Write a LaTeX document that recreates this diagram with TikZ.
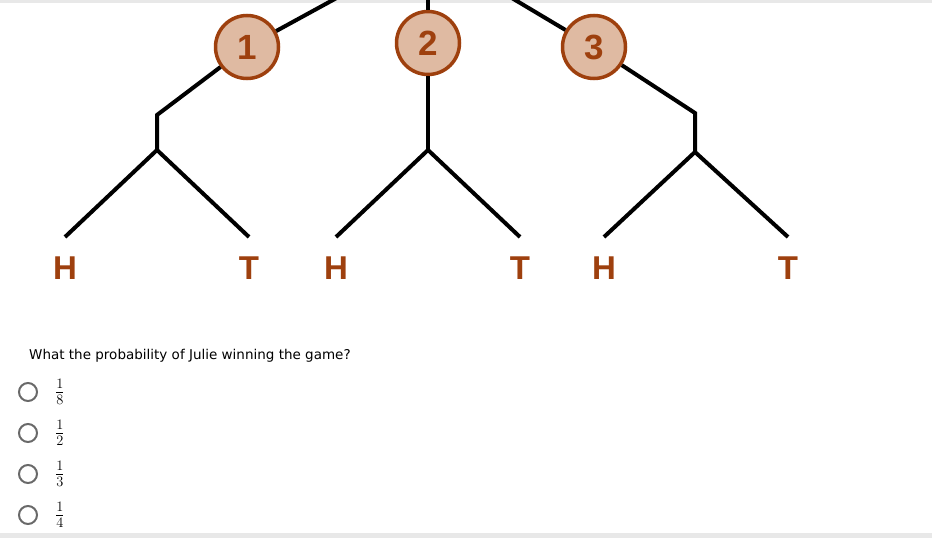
\documentclass[tikz,border=0pt]{standalone}
\usepackage{fontspec}
\setsansfont{Liberation Sans}
\newfontfamily\quizfont{DejaVu Sans}
\usetikzlibrary{positioning}
\definecolor{rust}{RGB}{158,64,14}
\definecolor{tan}{RGB}{223,186,162}
\definecolor{ring}{RGB}{105,105,105}
\definecolor{edge}{RGB}{232,232,232}

\begin{document}
\begin{tikzpicture}[x=1pt,y=-1pt]
\tikzstyle{every node}+=[inner sep=0pt]
\tikzstyle{branch}=[line width=4pt,line join=miter]
\tikzstyle{game}=[circle,draw=rust,fill=tan,line width=3.5pt,minimum size=63pt,text=rust,font=\sffamily\bfseries\fontsize{35}{35}\selectfont]
\tikzstyle{coin}=[text=rust,font=\sffamily\bfseries\fontsize{33}{33}\selectfont]
\tikzstyle{radio}=[circle,draw=ring,line width=2pt,minimum size=18pt]
\tikzstyle{choice}=[right=17pt of #1,font=\fontsize{20}{20}\selectfont]
\useasboundingbox (0,0) rectangle (932,538);
\clip (0,0) rectangle (932,538);
\fill [edge] (0,0) rectangle (932,3);
\fill [edge] (0,533) rectangle (932,538);
\coordinate (root) at (428,-52);
\node [game] (g1) at (247,47) {1};
\node [game] (g2) at (428,43) {2};
\node [game] (g3) at (594,47) {3};
\coordinate (k1) at (157,115);
\coordinate (s1) at (157,150);
\coordinate (s2) at (428,150);
\coordinate (k3) at (695,113);
\coordinate (s3) at (695,152);
\coordinate (l1) at (65,237);
\coordinate (l2) at (249,237);
\coordinate (l3) at (336,237);
\coordinate (l4) at (520,237);
\coordinate (l5) at (604,237);
\coordinate (l6) at (788,237);
\node [coin,below=20pt of l1] (h1) {H};
\node [coin,below=20pt of l2] (t1) {T};
\node [coin,below=20pt of l3] (h2) {H};
\node [coin,below=20pt of l4] (t2) {T};
\node [coin,below=20pt of l5] (h3) {H};
\node [coin,below=20pt of l6] (t3) {T};
\draw [branch] (root) -- (g1);
\draw [branch] (root) -- (g2);
\draw [branch] (root) -- (g3);
\draw [branch] (g1) -- (k1) -- (s1);
\draw [branch] (g2) -- (s2);
\draw [branch] (g3) -- (k3) -- (s3);
\draw [branch] (l1) -- (s1) -- (l2);
\draw [branch] (l3) -- (s2) -- (l4);
\draw [branch] (l5) -- (s3) -- (l6);
\node [anchor=west,font=\quizfont\fontsize{13.5}{13.5}\selectfont] (question) at (29,356) {What the probability of Julie winning the game?};
\node [radio] (r1) at (28,392) {};
\node [radio] (r2) at (28,433) {};
\node [radio] (r3) at (28,474) {};
\node [radio] (r4) at (28,515) {};
\node [choice=r1] (a1) {$\frac{1}{8}$};
\node [choice=r2] (a2) {$\frac{1}{2}$};
\node [choice=r3] (a3) {$\frac{1}{3}$};
\node [choice=r4] (a4) {$\frac{1}{4}$};
\end{tikzpicture}
\end{document}
